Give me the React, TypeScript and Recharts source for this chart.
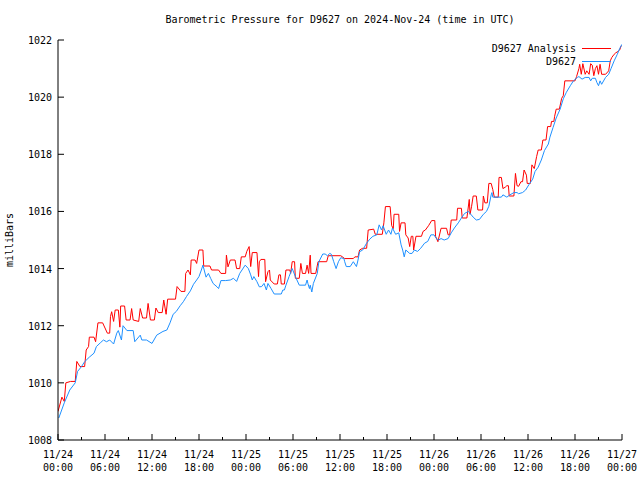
import { LineChart, Line, XAxis, YAxis, Legend } from "recharts";

// hours since 11/24 00:00 UTC
const redHours = [
  0, 0.5, 0.8, 1.0, 1.6, 2.2, 2.4, 2.8, 3.4, 3.6,
  3.9, 4.0, 4.6, 4.8, 5.1, 5.7, 6.0, 6.3, 6.6, 6.7,
  6.85, 7.1, 7.3, 7.7, 7.9, 8.0, 8.5, 8.7, 9.2, 9.4,
  9.6, 10.3, 10.5, 10.8, 11.3, 11.5, 11.8, 12.3, 12.5, 12.8,
  13.3, 13.5, 13.8, 14.0, 15.0, 15.2, 15.7, 16.2, 16.3, 16.6,
  16.9, 17.0, 17.5, 17.7, 18.0, 18.5, 18.6, 19.4, 19.6, 20.5,
  20.8, 21.4, 21.5, 21.7, 22.0, 22.6, 22.8, 23.2, 23.4, 23.9,
  24.1, 24.4, 24.6, 24.8, 25.4, 25.6, 25.7, 25.9, 26.4, 26.5,
  26.8, 27.0, 27.1, 27.6, 28.0, 28.2, 28.4, 28.5, 28.9, 29.1,
  29.6, 29.7, 29.9, 30.2, 30.3, 30.8, 31.0, 31.2, 31.6, 31.8,
  32.0, 32.2, 32.3, 32.9, 33.2, 34.3, 34.5, 36.1, 36.6, 37.7,
  37.9, 38.3, 38.5, 38.9, 39.4, 39.6, 40.3, 40.5, 41.4, 41.6,
  41.8, 42.4, 42.6, 42.8, 42.9, 43.5, 43.6, 43.8, 44.3, 44.4,
  44.7, 44.9, 45.1, 45.3, 45.4, 45.7, 46.4, 46.6, 46.9, 47.3,
  47.7, 48.1, 48.2, 48.5, 48.9, 49.6, 49.8, 50.0, 50.2, 50.9,
  51.0, 51.5, 51.6, 52.2, 52.5, 52.6, 52.8, 53.0, 53.4, 53.6,
  54.2, 54.3, 54.5, 54.8, 55.0, 55.3, 55.5, 55.7, 56.2, 56.3,
  56.6, 56.8, 57.1, 57.3, 57.5, 57.6, 58.2, 58.4, 58.6, 58.8,
  59.1, 59.3, 59.5, 59.8, 59.9, 60.3, 60.5, 60.8, 61.1, 61.3,
  61.7, 61.9, 62.3, 62.5, 62.9, 63.0, 63.3, 63.4, 63.6, 64.0,
  64.3, 64.5, 64.7, 66.0, 66.2, 66.5, 66.6, 66.8, 67.0, 67.3,
  67.5, 67.8, 68.0, 68.2, 68.4, 68.6, 68.8, 69.0, 69.2, 69.4,
  69.9, 70.3, 70.5, 70.7, 71.0, 71.2, 71.5, 71.7, 71.9,
];

// D9627 Analysis (mb)
const redValues = [
  1009.0, 1009.5, 1009.35, 1010.0, 1010.05, 1010.05, 1010.75, 1010.57, 1010.57, 1011.15,
  1011.27, 1011.6, 1011.6, 1011.44, 1012.1, 1012.1, 1011.92, 1011.74, 1011.74, 1012.32,
  1012.49, 1012.15, 1012.55, 1012.55, 1011.95, 1012.69, 1012.69, 1012.2, 1012.2, 1012.6,
  1012.2, 1012.15, 1012.6, 1012.27, 1012.27, 1012.78, 1012.2, 1012.2, 1012.62, 1012.46,
  1012.46, 1012.9, 1012.4, 1012.93, 1012.93, 1013.37, 1013.2, 1013.2, 1013.83, 1013.95,
  1013.78, 1014.3, 1014.3, 1014.18, 1014.65, 1014.65, 1014.09, 1014.09, 1013.95, 1013.95,
  1013.83, 1013.83, 1014.47, 1014.06, 1014.3, 1014.3, 1014.0, 1014.0, 1014.41, 1014.41,
  1014.6, 1014.77, 1014.07, 1014.56, 1014.56, 1013.72, 1014.24, 1014.32, 1014.32, 1013.54,
  1013.89, 1013.95, 1013.6, 1013.46, 1013.46, 1013.78, 1013.78, 1013.46, 1013.46, 1013.95,
  1013.95, 1013.83, 1014.24, 1014.24, 1013.66, 1013.66, 1014.18, 1013.83, 1013.83, 1014.12,
  1013.83, 1014.47, 1013.83, 1013.83, 1014.24, 1014.24, 1014.45, 1014.45, 1014.35, 1014.35,
  1014.41, 1014.41, 1014.65, 1014.71, 1014.71, 1015.35, 1015.38, 1015.2, 1015.2, 1015.6,
  1016.17, 1016.17, 1015.5, 1015.4, 1015.9, 1015.9, 1015.3, 1015.6, 1015.6, 1015.18,
  1015.07, 1014.77, 1015.13, 1015.13, 1014.65, 1015.13, 1015.13, 1015.3, 1015.35, 1015.5,
  1015.68, 1015.68, 1015.13, 1014.94, 1015.41, 1015.41, 1015.18, 1015.18, 1015.7, 1015.7,
  1016.11, 1016.11, 1015.77, 1015.77, 1016.42, 1015.9, 1016.18, 1016.54, 1016.54, 1016.05,
  1016.05, 1016.54, 1016.3, 1016.3, 1016.98, 1016.98, 1016.77, 1016.5, 1016.5, 1017.19,
  1017.19, 1016.8, 1016.85, 1016.9, 1016.9, 1016.54, 1016.54, 1017.33, 1016.9, 1016.88,
  1017.04, 1017.04, 1017.45, 1017.27, 1016.98, 1016.98, 1017.63, 1017.5, 1017.92, 1018.15,
  1018.15, 1018.5, 1018.5, 1018.97, 1018.97, 1019.15, 1019.15, 1019.33, 1019.58, 1019.58,
  1019.96, 1020.05, 1020.57, 1020.57, 1020.72, 1021.0, 1021.15, 1020.8, 1021.17, 1020.8,
  1020.92, 1020.8, 1021.17, 1021.12, 1020.75, 1021.0, 1021.1, 1020.8, 1021.15, 1020.8,
  1020.8, 1020.92, 1021.27, 1021.39, 1021.5, 1021.55, 1021.6, 1021.65, 1021.8,
];

const blueHours = [
  0.1, 0.8, 1.5, 2.2, 2.5, 3.0, 3.4, 4.0, 4.6, 4.9,
  5.4, 5.8, 6.2, 6.6, 7.1, 7.5, 7.7, 8.1, 8.3, 8.8,
  9.6, 9.8, 10.5, 10.7, 11.3, 12.0, 12.6, 13.4, 13.9, 14.3,
  14.7, 15.1, 15.6, 16.0, 16.4, 16.9, 17.3, 17.7, 18.0, 18.3,
  18.5, 18.9, 19.2, 19.5, 19.8, 20.3, 20.5, 20.8, 21.4, 22.0,
  22.4, 22.8, 23.2, 23.9, 24.3, 24.6, 24.8, 25.0, 25.4, 25.7,
  26.0, 26.3, 26.6, 26.8, 27.2, 27.6, 28.5, 28.7, 28.9, 29.1,
  29.5, 29.9, 30.3, 30.8, 31.6, 31.8, 31.9, 32.1, 32.2, 32.4,
  32.6, 33.1, 33.3, 33.8, 34.1, 34.4, 34.7, 34.9, 35.2, 35.5,
  35.8, 36.1, 36.5, 36.6, 36.8, 37.3, 37.7, 38.1, 38.3, 38.5,
  38.9, 39.4, 39.8, 40.2, 40.7, 41.0, 41.3, 41.5, 41.9, 42.2,
  42.5, 42.7, 43.1, 43.5, 43.8, 44.0, 44.2, 44.4, 44.9, 45.2,
  45.5, 45.9, 46.3, 46.8, 47.2, 47.6, 48.0, 48.3, 48.6, 48.9,
  49.3, 49.8, 50.2, 50.6, 51.1, 51.5, 51.9, 52.4, 52.7, 53.0,
  53.4, 53.8, 54.3, 54.7, 55.0, 55.3, 55.4, 55.5, 56.6, 56.8,
  57.3, 57.7, 58.2, 58.6, 58.8, 59.3, 59.7, 60.1, 60.6, 60.9,
  61.3, 61.7, 62.1, 62.6, 62.8, 63.2, 63.6, 64.1, 64.5, 64.9,
  65.4, 65.8, 66.3, 66.5, 66.9, 67.3, 67.8, 68.0, 68.2, 68.6,
  68.8, 69.0, 69.2, 69.4, 69.9, 70.3, 70.6, 71.0, 71.4, 71.7,
  72.0,
];

// D9627 observed (mb)
const blueValues = [
  1008.77, 1009.3, 1009.75, 1010.0, 1010.4, 1010.57, 1010.74, 1010.9, 1011.04, 1011.27,
  1011.4, 1011.5, 1011.44, 1011.5, 1011.36, 1011.74, 1011.83, 1011.5, 1012.0, 1011.83,
  1011.83, 1011.44, 1011.67, 1011.5, 1011.5, 1011.38, 1011.67, 1011.8, 1011.85, 1012.1,
  1012.4, 1012.5, 1012.7, 1012.84, 1013.02, 1013.22, 1013.45, 1013.6, 1013.72, 1013.95,
  1014.12, 1013.7, 1013.83, 1013.65, 1013.48, 1013.36, 1013.3, 1013.58, 1013.58, 1013.6,
  1013.66, 1013.55, 1013.83, 1014.12, 1014.0, 1013.78, 1013.6, 1013.72, 1013.54, 1013.36,
  1013.37, 1013.48, 1013.25, 1013.48, 1013.3, 1013.11, 1013.11, 1013.25, 1013.25, 1013.42,
  1013.72, 1014.0, 1013.72, 1013.42, 1013.42, 1013.6, 1013.48, 1013.3, 1013.42, 1013.18,
  1013.48, 1013.83, 1014.24, 1014.51, 1014.51, 1014.45, 1014.53, 1014.5, 1014.24, 1014.0,
  1014.24, 1014.38, 1014.35, 1014.24, 1014.07, 1014.07, 1014.24, 1014.07, 1014.3, 1014.59,
  1014.65, 1014.89, 1015.03, 1015.13, 1015.18, 1015.53, 1015.35, 1015.5, 1015.2, 1015.35,
  1015.2, 1015.42, 1015.2, 1015.25, 1014.83, 1014.65, 1014.41, 1014.65, 1014.53, 1014.53,
  1014.65, 1014.6, 1014.71, 1014.89, 1014.95, 1015.18, 1015.18, 1015.05, 1015.0, 1015.05,
  1015.0, 1015.05, 1015.25, 1015.42, 1015.6, 1015.77, 1015.93, 1016.0, 1015.9, 1015.8,
  1015.7, 1015.72, 1015.9, 1016.0, 1016.18, 1016.58, 1016.66, 1016.5, 1016.5, 1016.58,
  1016.5, 1016.58, 1016.66, 1016.66, 1016.62, 1016.66, 1016.75, 1016.93, 1017.13, 1017.4,
  1017.55, 1017.8, 1018.13, 1018.36, 1018.6, 1018.94, 1019.27, 1019.58, 1019.94, 1020.17,
  1020.4, 1020.57, 1020.69, 1020.72, 1020.63, 1020.69, 1020.69, 1020.57, 1020.66, 1020.66,
  1020.51, 1020.4, 1020.57, 1020.45, 1020.69, 1020.8, 1021.0, 1021.27, 1021.5, 1021.7,
  1021.85,
];

const xTicks = [0, 3, 6, 9, 12, 15, 18, 21, 24, 27, 30, 33, 36, 39, 42, 45, 48, 51, 54, 57, 60, 63, 66, 69, 72];
const xDates = ["11/24", "11/24", "11/24", "11/24", "11/25", "11/25", "11/25", "11/25", "11/26", "11/26", "11/26", "11/26", "11/27"];
const xTimes = ["00:00", "06:00", "12:00", "18:00"];
const yTicks = [1008, 1010, 1012, 1014, 1016, 1018, 1020, 1022];

const redData = redHours.map((h, i) => ({ h, v: redValues[i] }));
const blueData = blueHours.map((h, i) => ({ h, v: blueValues[i] }));

const FONT = "'DejaVu Sans Mono', 'Liberation Mono', monospace";

function BottomTick({ x, y, payload }: any) {
  const h = payload.value;
  const major = h % 6 === 0;
  const idx = h / 6;
  return (
    <g>
      <line x1={x} x2={x} y1={y} y2={y - (major ? 6 : 3)} stroke="#000" />
      {major && (
        <text x={x} y={y} textAnchor="middle" fontFamily={FONT} fontSize={10} fill="#000">
          <tspan x={x} dy={18}>{xDates[idx]}</tspan>
          <tspan x={x} dy={13}>{xTimes[idx % 4]}</tspan>
        </text>
      )}
    </g>
  );
}

function TopTick({ x, y, payload }: any) {
  const major = payload.value % 6 === 0;
  return <line x1={x} x2={x} y1={y} y2={y + (major ? 6 : 3)} stroke="#000" />;
}

function LeftTick({ x, y, payload }: any) {
  return (
    <g>
      <line x1={x} x2={x + 6} y1={y} y2={y} stroke="#000" />
      <text x={x - 6} y={y} dy={4} textAnchor="end" fontFamily={FONT} fontSize={10} fill="#000">
        {payload.value}
      </text>
    </g>
  );
}

function RightTick({ x, y }: any) {
  return <line x1={x} x2={x - 6} y1={y} y2={y} stroke="#000" />;
}

function LegendBox() {
  const items = [
    { name: "D9627 Analysis", color: "#ff0000" },
    { name: "D9627", color: "#1e90ff" },
  ];
  return (
    <div style={{ fontFamily: FONT, fontSize: 10, color: "#000" }}>
      {items.map((it) => (
        <div key={it.name} style={{ display: "flex", alignItems: "center", height: 13 }}>
          <span style={{ width: 106, textAlign: "right" }}>{it.name}</span>
          <svg width={36} height={13} style={{ marginLeft: 6 }}>
            <line x1={0} x2={29} y1={6.5} y2={6.5} stroke={it.color} strokeWidth={1} />
          </svg>
        </div>
      ))}
    </div>
  );
}

export default function App() {
  return (
    <div style={{ position: "absolute", left: 0, top: 0, width: 640, height: 480, background: "#fff", fontFamily: FONT }}>
      <div
        style={{
          position: "absolute",
          left: 58,
          top: 13,
          width: 564,
          textAlign: "center",
          fontSize: 10,
          lineHeight: "14px",
          color: "#000",
        }}
      >
        Barometric Pressure for D9627 on 2024-Nov-24 (time in UTC)
      </div>
      <LineChart width={640} height={480} margin={{ top: 40, right: 18, bottom: 0, left: 0 }}>
        <XAxis
          dataKey="h"
          type="number"
          domain={[0, 72]}
          ticks={xTicks}
          interval={0}
          height={40}
          tickSize={0}
          tickMargin={0}
          tickLine={false}
          tick={<BottomTick />}
          axisLine={{ stroke: "#000" }}
          allowDataOverflow
        />
        <XAxis
          xAxisId="top"
          orientation="top"
          dataKey="h"
          type="number"
          domain={[0, 72]}
          ticks={xTicks}
          interval={0}
          height={0}
          tickSize={0}
          tickMargin={0}
          tickLine={false}
          tick={<TopTick />}
          axisLine={{ stroke: "#000" }}
          allowDataOverflow
        />
        <YAxis
          type="number"
          domain={[1008, 1022]}
          ticks={yTicks}
          interval={0}
          width={58}
          tickSize={0}
          tickMargin={0}
          tickLine={false}
          tick={<LeftTick />}
          axisLine={{ stroke: "#000" }}
          allowDataOverflow
          label={{
            content: () => (
              <text transform="translate(13,240) rotate(-90)" textAnchor="middle" fontFamily={FONT} fontSize={10} fill="#000">
                milliBars
              </text>
            ),
          }}
        />
        <YAxis
          yAxisId="right"
          orientation="right"
          type="number"
          domain={[1008, 1022]}
          ticks={yTicks}
          interval={0}
          width={0}
          tickSize={0}
          tickMargin={0}
          tickLine={false}
          tick={<RightTick />}
          axisLine={{ stroke: "#000" }}
          allowDataOverflow
        />
        <Legend
          layout="vertical"
          align="center"
          verticalAlign="middle"
          content={<LegendBox />}
          wrapperStyle={{ position: "absolute", left: 470, top: 42, width: 150 }}
        />
        <Line data={redData} dataKey="v" type="linear" stroke="#ff0000" strokeWidth={1} dot={false} isAnimationActive={false} name="D9627 Analysis" />
        <Line data={blueData} dataKey="v" type="linear" stroke="#1e90ff" strokeWidth={1} dot={false} isAnimationActive={false} name="D9627" />
      </LineChart>
    </div>
  );
}
